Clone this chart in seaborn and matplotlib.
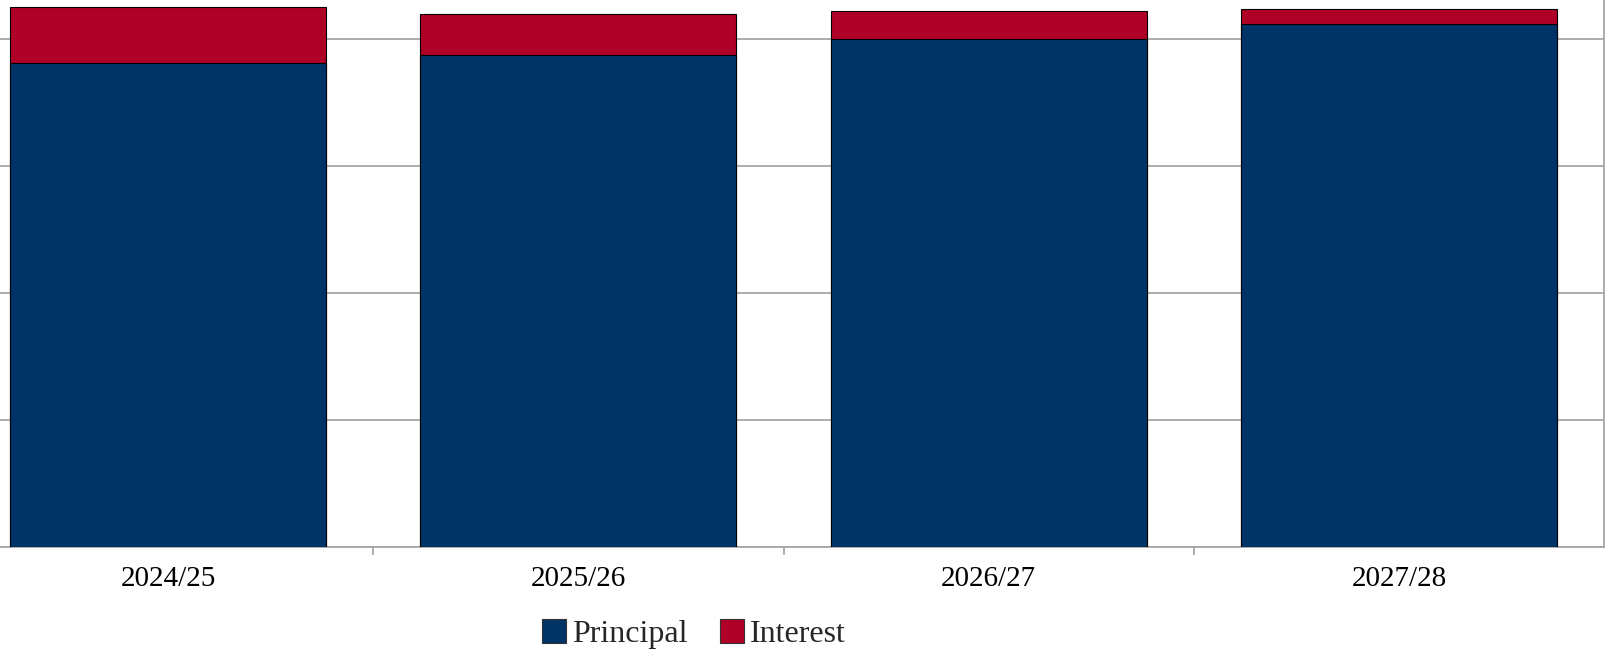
import pandas as pd
import matplotlib.pyplot as plt
import matplotlib.patches as mpatches
import seaborn as sns

# values (one grid step = 1 unit)
years = ["2024/25", "2025/26", "2026/27", "2027/28"]
principal = [3.81, 3.87, 4.00, 4.12]
interest = [0.44, 0.33, 0.22, 0.12]

df = pd.DataFrame({"Year": years, "Principal": principal, "Interest": interest})
df["Total"] = df["Principal"] + df["Interest"]

navy = "#003466"
red = "#AF0027"
grid_grey = "#a6a6a6"

sns.set_style("white")
plt.rcParams["font.family"] = ["Liberation Serif", "DejaVu Serif"]

fig = plt.figure(figsize=(16.06, 6.55), dpi=100)
ax = fig.add_axes([-0.023, 0.165, 1.0218, 0.835])

# stacked bars: total first (interest colour), principal over it
sns.barplot(data=df, x="Year", y="Total", color=red, width=0.77,
            edgecolor="black", linewidth=0.8, saturation=1, ax=ax, zorder=3)
sns.barplot(data=df, x="Year", y="Principal", color=navy, width=0.77,
            edgecolor="black", linewidth=0.8, saturation=1, ax=ax, zorder=4)

ax.set_xlim(-0.5, 3.5)
ax.set_ylim(0, 4.307)
ax.set_yticks([0, 1, 2, 3, 4])
ax.set_yticklabels([])
ax.tick_params(axis="y", length=0)
ax.grid(True, axis="y", color=grid_grey, linewidth=1.3, zorder=0)
ax.set_axisbelow(True)

ax.set_xlabel("")
ax.set_ylabel("")
ax.tick_params(axis="x", which="major", bottom=False, pad=10, labelsize=21, colors="black")
ax.set_xticks([0.5, 1.5, 2.5], minor=True)
ax.tick_params(axis="x", which="minor", bottom=True, length=6, width=1.3, color=grid_grey)

for side in ["top", "left"]:
    ax.spines[side].set_visible(False)
for side in ["bottom", "right"]:
    ax.spines[side].set_color(grid_grey)
    ax.spines[side].set_linewidth(1.3)

handles = [
    mpatches.Patch(facecolor=navy, edgecolor="#333333", linewidth=0.8, label="Principal"),
    mpatches.Patch(facecolor=red, edgecolor="#333333", linewidth=0.8, label="Interest"),
]
fig.legend(handles=handles, loc="center", bbox_to_anchor=(0.432, 0.032), ncol=2,
           frameon=False, fontsize=23, handlelength=0.75, handleheight=0.75,
           handletextpad=0.2, columnspacing=1.0)

fig.savefig("out.png", dpi=100)
